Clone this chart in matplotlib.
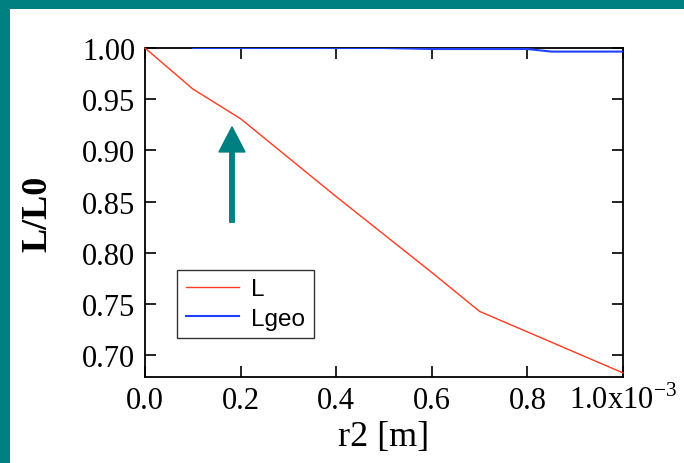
import matplotlib
matplotlib.use("Agg")
import matplotlib.pyplot as plt
from matplotlib.patches import Rectangle

# ---- data ----
r2 = [0.0, 0.1e-3, 0.2e-3, 0.3e-3, 0.4e-3, 0.5e-3, 0.6e-3, 0.7e-3, 0.8e-3, 0.9e-3, 1.0e-3]
L_ratio = [1.000, 0.960, 0.931, 0.893, 0.855, 0.818, 0.781, 0.743, 0.723, 0.703, 0.683]
r2_geo = [0.1e-3, 0.2e-3, 0.3e-3, 0.4e-3, 0.5e-3, 0.6e-3, 0.7e-3, 0.8e-3, 0.85e-3, 0.9e-3, 1.0e-3]
Lgeo_ratio = [1.000, 1.000, 1.000, 1.000, 1.000, 0.999, 0.999, 0.999, 0.9965, 0.9965, 0.9965]
xticks = [0.0, 0.2e-3, 0.4e-3, 0.6e-3, 0.8e-3, 1.0e-3]
xticklabels = ["0.0", "0.2", "0.4", "0.6", "0.8", r"1.0x10$^{\mathregular{-3}}$"]
yticks = [0.70, 0.75, 0.80, 0.85, 0.90, 0.95, 1.00]
yticklabels = ["0.70", "0.75", "0.80", "0.85", "0.90", "0.95", "1.00"]
arrow_x = 0.182e-3
arrow_tip_y = 0.923
arrow_tail_y = 0.830

TEAL = "#008080"
SERIF = "Liberation Serif"
plt.rcParams["mathtext.fontset"] = "custom"
plt.rcParams["mathtext.rm"] = SERIF

W, H = 684, 464
fig = plt.figure(figsize=(W / 100, H / 100), dpi=100, facecolor="white")
# teal frame bands (top and left)
fig.patches.append(Rectangle((0, 1 - 10 / H), 1, 10 / H, transform=fig.transFigure,
                             facecolor=TEAL, edgecolor="none", zorder=0))
fig.patches.append(Rectangle((0, 0), 10 / W, 1, transform=fig.transFigure,
                             facecolor=TEAL, edgecolor="none", zorder=0))

ax = fig.add_axes([145 / W, 1 - 378 / H, (623 - 145) / W, (378 - 49) / H])
ax.plot(r2, L_ratio, color="#ff3a20", lw=1.0, label="L", zorder=3, clip_on=False)
ax.plot(r2_geo, Lgeo_ratio, color="#2040ff", lw=1.5, label="Lgeo", zorder=3)

ax.set_xlim(0, 1.0e-3)
ax.set_ylim(0.679, 1.0)
ax.set_xticks(xticks)
ax.set_xticklabels(xticklabels, fontfamily=SERIF, fontsize=22, va="baseline")
ax.set_yticks(yticks)
ax.set_yticklabels(yticklabels, fontfamily=SERIF, fontsize=22)
ax.tick_params(direction="in", length=8, width=1.2, top=True, right=True, pad=7)
ax.tick_params(axis="x", pad=22)
for s in ax.spines.values():
    s.set_linewidth(1.3)

ax.set_xlabel("r2 [m]", fontfamily=SERIF, fontsize=26, labelpad=4)
ax.set_ylabel("L/L0", fontfamily=SERIF, fontsize=26, fontweight="bold", labelpad=20)

leg = ax.legend(loc="lower left", bbox_to_anchor=(0.067, 0.118), borderaxespad=0,
                prop={"family": "Liberation Sans", "size": 17.5}, frameon=True,
                fancybox=False, handlelength=2.2, handletextpad=0.5,
                borderpad=0.35, labelspacing=0.3)
leg.get_frame().set_edgecolor("black")
leg.get_frame().set_linewidth(1.0)
leg.set_zorder(5)

ax.annotate("", xy=(arrow_x, arrow_tip_y), xytext=(arrow_x, arrow_tail_y),
            arrowprops=dict(arrowstyle="simple,head_length=18,head_width=18.7,tail_width=3.2",
                            mutation_scale=1, color=TEAL, shrinkA=0, shrinkB=0))

fig.savefig("out.png", dpi=100, facecolor=fig.get_facecolor())
